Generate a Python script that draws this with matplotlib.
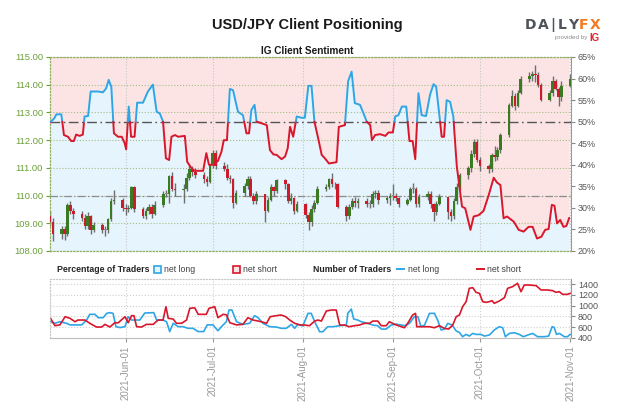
import matplotlib
matplotlib.use('Agg')
import matplotlib.pyplot as plt
import matplotlib.dates as mdates
from matplotlib import font_manager
from matplotlib.patches import Rectangle
from matplotlib.lines import Line2D
import numpy as np
import pandas as pd

names = {f.name for f in font_manager.fontManager.ttflist}
NARROW = 'Liberation Sans Narrow' if 'Liberation Sans Narrow' in names else 'Liberation Sans'
plt.rcParams['font.family'] = ['Liberation Sans', 'DejaVu Sans']

# ---- data ----
start = pd.Timestamp('2021-05-06')
end = pd.Timestamp('2021-11-01')
candle_dates = pd.bdate_range('2021-05-06', '2021-11-01')

first_open = 109.25
closes = [109.05, 108.60,
          108.80, 108.62, 109.65, 109.45, 109.35,
          109.20, 108.90, 109.25, 108.75, 108.95,
          108.75, 108.75, 109.15, 109.80, 109.85,
          109.55, 109.50, 109.55, 110.30, 109.50,
          109.25, 109.45, 109.60, 109.35, 109.65,
          110.05, 110.05, 110.70, 110.25, 110.20,
          110.25, 110.65, 110.95, 110.85, 110.75,
          110.60, 110.50, 111.10, 111.55, 111.05,
          110.95, 110.65, 110.60, 109.75, 110.10,
          110.35, 110.60, 110.00, 109.80, 110.05,
          109.45, 109.85, 110.30, 110.15, 110.55,
          110.40, 109.80, 109.90, 109.45, 109.70,
          109.30, 109.05, 109.50, 109.75, 110.25,
          110.30, 110.60, 110.40, 110.40, 109.60,
          109.25, 109.60, 109.80, 109.75, 109.80,
          109.70, 109.70, 110.05, 110.10, 109.85,
          109.90, 110.00, 110.00, 109.90, 109.70,
          109.85, 110.25, 110.25, 109.70, 109.95,
          110.05, 109.70, 109.40, 109.70, 109.95,
          109.40, 109.25, 109.80, 110.30, 110.75,
          111.00, 111.50, 111.95, 111.30, 111.05,
          110.95, 111.45, 111.40, 111.65, 112.20,
          113.25, 113.60, 113.25, 113.70, 114.20,
          114.30, 114.40, 114.35, 114.00, 113.45,
          113.70, 114.15, 113.85, 113.55, 113.95,
          114.20]
highs = [109.45, 109.20,
         108.90, 108.90, 109.75, 109.80, 109.55,
         109.45, 109.35, 109.40, 109.30, 109.05,
         109.00, 108.90, 109.20, 109.90, 110.20,
         109.90, 109.70, 109.65, 110.35, 110.35,
         109.60, 109.55, 109.70, 109.70, 109.80,
         110.15, 110.20, 110.75, 110.85, 110.45,
         110.40, 110.80, 111.10, 111.05, 111.00,
         110.85, 110.70, 111.15, 111.65, 111.65,
         111.20, 111.15, 110.75, 110.65, 110.20,
         110.45, 110.70, 110.70, 110.10, 110.15,
         110.05, 109.95, 110.40, 110.35, 110.60,
         110.60, 110.45, 110.10, 109.95, 109.80,
         109.75, 109.40, 109.65, 109.85, 110.35,
         110.40, 110.65, 110.80, 110.50, 110.45,
         109.65, 109.70, 109.90, 109.95, 109.90,
         109.90, 109.85, 110.15, 110.20, 110.20,
         110.00, 110.10, 110.40, 110.10, 109.95,
         109.90, 110.30, 110.45, 110.30, 110.05,
         110.15, 110.15, 109.75, 109.80, 110.05,
         109.95, 109.50, 109.90, 110.45, 110.80,
         111.05, 111.65, 112.05, 112.05, 111.40,
         111.15, 111.55, 111.80, 111.75, 112.25,
         113.35, 113.80, 113.70, 113.80, 114.30,
         114.45, 114.50, 114.70, 114.45, 114.05,
         113.80, 114.30, 114.20, 113.90, 114.15,
         114.40]
lows = [108.90, 108.35,
        108.45, 108.40, 108.55, 109.35, 109.15,
        109.10, 108.80, 108.80, 108.60, 108.70,
        108.65, 108.55, 108.65, 109.10, 109.70,
        109.45, 109.30, 109.40, 109.50, 109.40,
        109.20, 109.15, 109.35, 109.20, 109.30,
        109.60, 109.95, 109.75, 110.15, 110.00,
        109.75, 110.15, 110.55, 110.70, 110.65,
        110.45, 110.35, 110.45, 111.00, 110.95,
        110.90, 110.55, 110.45, 109.55, 109.70,
        110.00, 110.25, 109.95, 109.70, 109.70,
        109.05, 109.40, 109.80, 110.00, 110.10,
        110.25, 109.75, 109.70, 109.35, 109.40,
        109.20, 108.75, 108.90, 109.40, 109.70,
        110.15, 110.25, 110.30, 110.25, 109.55,
        109.10, 109.15, 109.50, 109.60, 109.55,
        109.60, 109.55, 109.60, 109.90, 109.70,
        109.75, 109.65, 109.85, 109.80, 109.60,
        109.65, 109.80, 110.10, 109.60, 109.60,
        109.85, 109.55, 109.10, 109.30, 109.65,
        109.15, 109.10, 109.15, 109.70, 110.20,
        110.60, 110.85, 111.40, 111.20, 110.90,
        110.80, 110.85, 111.25, 111.30, 111.55,
        112.10, 113.20, 113.10, 113.20, 113.65,
        114.10, 114.15, 114.10, 113.90, 113.40,
        113.40, 113.60, 113.80, 113.25, 113.40,
        113.90]

# net-long share of IG clients (%), day offsets from start
sent_days = [0, 1.5, 2.2, 3.9, 4.8, 6.2, 7.3, 8.2, 9.0, 10.2,
             11.3, 11.9, 13.1, 14.0, 16.5, 18.2, 19.3, 20.2, 21.1, 22.0,
             23.4, 24.7, 25.7, 26.2, 27.1, 27.9, 29.1, 30.0, 32.0, 33.7,
             35.4, 36.7, 37.8, 38.9, 39.9, 41.0, 41.8, 43.0, 44.1, 46.4,
             47.2, 48.7, 49.8, 52.7, 53.8, 54.7, 56.1, 57.8, 59.0, 59.8,
             60.9, 61.9, 63.0, 63.9, 64.7, 66.4, 67.6, 68.5, 69.3, 70.4,
             71.1, 72.9, 74.6, 75.7, 76.9, 78.0, 79.7, 80.9, 81.8, 82.6,
             83.7, 84.9, 86.6, 87.7, 88.9, 90.0, 91.0, 92.3, 93.5, 94.6,
             96.0, 98.6, 99.4, 101.5, 102.6, 103.8, 104.9, 106.7, 107.9, 109.0,
             110.2, 110.8, 111.9, 113.6, 115.4, 116.5, 118.0, 118.8, 119.9, 121.1,
             122.6, 123.7, 124.8, 125.7, 126.8, 127.9, 129.4, 130.8, 132.0, 132.9,
             134.0, 134.8, 135.6, 136.5, 137.7, 138.8, 140.0, 141.8, 142.9, 144.7,
             145.8, 147.5, 149.2, 151.0, 152.7, 153.8, 155.0, 156.1, 157.3, 159.6,
             161.3, 163.0, 164.7, 166.1, 167.6, 169.1, 170.4, 171.6, 172.7, 173.6,
             174.5, 175.6, 176.7, 177.7, 178.7]
sent_pct = [49.8, 50.8, 51.7, 51.7, 46.9, 46.5, 45.5, 45.5, 47.0, 46.7,
            47.0, 51.2, 51.3, 57.0, 57.0, 56.8, 57.7, 59.7, 58.1, 47.3,
            46.5, 46.5, 45.0, 43.6, 53.5, 46.5, 46.5, 54.4, 54.4, 57.0,
            58.6, 52.3, 51.9, 50.0, 41.5, 41.1, 46.5, 46.9, 46.5, 46.7,
            40.7, 39.2, 38.6, 38.6, 42.7, 40.0, 40.0, 40.9, 43.0, 45.7,
            45.7, 57.6, 57.3, 54.6, 52.3, 51.5, 47.3, 47.3, 52.7, 53.9,
            50.0, 49.6, 49.2, 43.4, 42.4, 42.3, 41.3, 41.9, 43.8, 48.8,
            46.5, 51.2, 50.9, 50.9, 58.3, 58.3, 50.0, 46.1, 42.3, 41.5,
            40.3, 40.6, 48.8, 49.2, 59.4, 61.6, 54.3, 53.9, 51.9, 50.0,
            49.2, 45.7, 46.9, 47.1, 46.7, 47.5, 47.5, 51.2, 51.5, 53.5,
            53.5, 45.5, 45.5, 41.3, 56.6, 51.5, 51.3, 56.3, 58.7, 58.1,
            51.5, 46.5, 46.5, 55.0, 54.6, 51.2, 39.6, 30.3, 29.9, 24.9,
            28.0, 28.3, 29.3, 33.0, 37.0, 35.9, 35.3, 27.6, 28.0, 26.8,
            24.9, 24.5, 25.6, 25.6, 22.9, 23.3, 24.9, 25.1, 30.7, 30.5,
            26.4, 27.2, 25.6, 25.8, 27.7]

# number of traders
short_days = [0, 1.7, 3.4, 5.2, 6.9, 8.6, 9.6, 12.0, 13.7, 16.0,
              17.8, 18.9, 20.6, 22.3, 23.5, 25.8, 26.9, 28.1, 28.9, 29.8,
              31.5, 33.2, 35.5, 37.2, 38.9, 39.9, 40.7, 42.4, 43.5, 45.3,
              47.0, 48.1, 49.8, 51.0, 53.8, 54.7, 56.7, 57.8, 59.6, 60.7,
              61.9, 64.2, 66.4, 68.1, 69.9, 72.7, 74.5, 75.8, 77.9, 79.6,
              81.1, 82.5, 84.2, 85.9, 87.6, 89.3, 91.1, 92.2, 93.4, 95.1,
              96.8, 98.5, 99.7, 101.4, 102.9, 104.8, 106.5, 108.2, 110.0, 111.1,
              112.8, 114.0, 115.7, 116.8, 118.6, 120.9, 122.0, 123.1, 124.8, 125.8,
              126.2, 128.3, 130.6, 132.3, 134.0, 135.7, 137.2, 138.6, 139.8, 140.9,
              142.0, 143.2, 144.3, 145.5, 146.6, 147.8, 148.9, 150.1, 151.2, 152.1,
              152.9, 154.6, 156.4, 157.5, 159.2, 160.9, 162.1, 163.2, 164.9, 167.3,
              169.0, 171.2, 173.0, 174.1, 175.3, 176.4, 178.1, 179.0]
short_count = [780, 625, 640, 794, 763, 700, 731, 731, 670, 600,
               600, 650, 600, 680, 680, 794, 680, 813, 813, 607,
               600, 650, 650, 731, 731, 981, 763, 750, 670, 670,
               731, 950, 960, 838, 838, 950, 981, 775, 838, 830,
               680, 640, 650, 775, 731, 700, 670, 794, 813, 825,
               794, 731, 670, 640, 637, 625, 712, 731, 712, 900,
               919, 919, 637, 637, 606, 625, 637, 669, 669, 712,
               712, 625, 625, 700, 650, 606, 587, 669, 825, 856,
               606, 606, 606, 587, 625, 575, 562, 637, 794, 825,
               981, 1075, 1325, 1337, 1250, 1231, 1075, 1062, 1075, 1094,
               1044, 1087, 1150, 1325, 1356, 1419, 1262, 1387, 1387, 1375,
               1294, 1294, 1281, 1250, 1262, 1212, 1212, 1231]
long_days = [0, 1.7, 3.4, 5.7, 6.9, 10.9, 12.6, 13.7, 15.5, 16.6,
             18.3, 19.5, 20.6, 21.7, 22.7, 24.1, 25.8, 26.9, 28.1, 30.9,
             32.6, 35.7, 36.7, 38.9, 40.1, 41.2, 42.4, 44.1, 45.8, 47.5,
             49.2, 51.0, 52.9, 54.1, 56.1, 57.8, 59.0, 60.7, 61.6, 62.6,
             64.2, 66.4, 68.7, 70.4, 71.6, 73.3, 75.6, 77.9, 79.6, 81.3,
             83.1, 84.2, 85.3, 87.0, 88.8, 89.9, 91.1, 92.8, 93.9, 95.6,
             97.4, 99.7, 102.0, 102.5, 103.7, 104.5, 105.9, 107.1, 109.4, 111.1,
             112.8, 114.0, 115.7, 117.4, 119.1, 120.9, 122.0, 123.7, 125.4, 126.6,
             127.7, 128.9, 130.6, 132.3, 133.4, 134.6, 135.7, 136.9, 138.4, 139.8,
             140.9, 142.0, 143.2, 144.3, 145.5, 146.6, 148.3, 149.5, 151.2, 152.9,
             154.6, 155.8, 156.7, 158.1, 159.8, 161.5, 162.9, 164.4, 166.1, 167.8,
             170.1, 171.6, 172.8, 173.5, 174.3, 175.3, 177.0, 178.1, 179.0]
long_count = [700, 670, 700, 670, 640, 640, 731, 838, 838, 775,
              775, 856, 870, 856, 607, 590, 607, 794, 731, 731,
              862, 870, 731, 731, 700, 515, 670, 607, 607, 576,
              576, 515, 515, 640, 640, 530, 607, 700, 919, 919,
              700, 650, 670, 813, 775, 670, 607, 600, 576, 576,
              650, 576, 650, 620, 856, 856, 700, 512, 512, 606,
              606, 625, 637, 856, 937, 750, 731, 700, 669, 637,
              625, 562, 562, 637, 656, 637, 625, 669, 794, 794,
              606, 637, 856, 856, 731, 544, 562, 669, 637, 525,
              500, 419, 462, 431, 481, 462, 462, 431, 450, 544,
              606, 587, 419, 481, 494, 462, 419, 450, 481, 419,
              419, 431, 606, 594, 462, 481, 419, 419, 462]

price_ticks = [108, 109, 110, 111, 112, 113, 114, 115]
pct_ticks = [20, 25, 30, 35, 40, 45, 50, 55, 60, 65]
count_ticks = [400, 600, 800, 1000, 1200, 1400]
month_ticks = pd.date_range('2021-06-01', '2021-11-01', freq='MS')

# ---- colours ----
BLUE = '#2ea6e6'
RED = '#d8172c'
PINK_BG = '#fce4e5'
BLUE_BG = '#e6f4fd'
GREEN_TXT = '#6a9f38'
GREY_TXT = '#555555'
C_UP = '#3a7a22'
C_DN = '#cc1b2b'

t0 = mdates.date2num(start)
x_end = mdates.date2num(end) + 0.3

fig = plt.figure(figsize=(6.24, 4.16), dpi=100)

# ---- top panel: three stacked axes (fills / candles / line) ----
ax_pct = fig.add_axes([50 / 624, 1 - 251 / 416, 521 / 624, 194 / 416])
ax_px = ax_pct.twinx()
ax_line = ax_pct.twinx()

sx = t0 + np.array(sent_days)
sy = np.array(sent_pct)
ax_pct.fill_between(sx, sy, 65, color=PINK_BG, lw=0)
ax_pct.fill_between(sx, 20, sy, color=BLUE_BG, lw=0)
ax_pct.set_ylim(20, 65)
ax_pct.set_xlim(t0, x_end)
ax_pct.set_yticks(pct_ticks)
ax_pct.set_yticklabels([f'{p}%' for p in pct_ticks])
ax_pct.yaxis.tick_right()
ax_pct.tick_params(axis='y', colors='#888888', labelcolor=GREY_TXT,
                   labelsize=6.5, length=3, width=0.8, pad=2)
ax_pct.tick_params(axis='x', length=0, labelbottom=False)
for s in ax_pct.spines.values():
    s.set_visible(False)

# candles
cx = mdates.date2num(candle_dates)
o = np.array([first_open] + closes[:-1])
c = np.array(closes)
h = np.array(highs)
l = np.array(lows)
cols = np.where(c > o, C_UP, np.where(c < o, C_DN, '#8a8a8a'))
ax_px.vlines(cx, l, h, color='#6e6e6e', lw=1.0, zorder=2)
ax_px.bar(cx, np.maximum(np.abs(c - o), 0.035), bottom=np.minimum(o, c),
          width=0.9, color=cols, lw=0, zorder=3)
ax_px.set_ylim(108, 115)
ax_px.set_xlim(t0, x_end)
ax_px.set_yticks(price_ticks)
ax_px.set_yticklabels([f'{p:.2f}' for p in price_ticks])
ax_px.yaxis.tick_left()
ax_px.yaxis.set_label_position('left')
ax_px.tick_params(axis='y', colors=GREEN_TXT, labelcolor=GREEN_TXT,
                  labelsize=6.8, length=3, width=0.8, pad=2)
ax_px.set_axisbelow(True)
ax_px.grid(axis='y', color='#a7bd86', ls=':', lw=0.8)
for m in mdates.date2num(month_ticks):
    ax_px.axvline(m, color='#c4c4c4', ls=':', lw=0.8, zorder=1)
ax_px.axhline(110, color='#8c8c8c', lw=0.9, dashes=(6, 2, 1, 2), zorder=1.5)
for side in ['left', 'top', 'bottom']:
    ax_px.spines[side].set_color('#8fae62')
    ax_px.spines[side].set_linestyle(':')
    ax_px.spines[side].set_linewidth(0.9)
ax_px.spines['right'].set_color('#9a9a9a')
ax_px.spines['right'].set_linewidth(0.8)

# sentiment line, blue above 50 %, red below
ax_line.set_ylim(20, 65)
ax_line.set_xlim(t0, x_end)
ax_line.axhline(50, color='#555555', lw=1.0, dashes=(7, 2.5, 1.2, 2.5), zorder=1)
seg_x, seg_y = [sx[0]], [sy[0]]
above = sy[0] >= 50
for i in range(1, len(sx)):
    now = sy[i] >= 50
    if now != above:
        t = (50 - sy[i - 1]) / (sy[i] - sy[i - 1])
        xc = sx[i - 1] + t * (sx[i] - sx[i - 1])
        seg_x.append(xc)
        seg_y.append(50)
        ax_line.plot(seg_x, seg_y, color=BLUE if above else RED, lw=1.4,
                     solid_capstyle='round', zorder=3)
        seg_x, seg_y = [xc], [50]
        above = now
    seg_x.append(sx[i])
    seg_y.append(sy[i])
ax_line.plot(seg_x, seg_y, color=BLUE if above else RED, lw=1.4,
             solid_capstyle='round', zorder=3)
ax_line.yaxis.set_visible(False)
for s in ax_line.spines.values():
    s.set_visible(False)

# ---- bottom panel ----
axb = fig.add_axes([50 / 624, 1 - 338.3 / 416, 521 / 624, 59 / 416])
axb.plot(t0 + np.array(long_days), long_count, color=BLUE, lw=1.2)
axb.plot(t0 + np.array(short_days), short_count, color=RED, lw=1.2)
axb.set_xlim(t0, x_end)
axb.set_ylim(389, 1494)
axb.yaxis.tick_right()
axb.set_yticks(count_ticks)
axb.tick_params(axis='y', colors='#888888', labelcolor=GREY_TXT,
                labelsize=6.5, length=3, width=0.8, pad=2)
axb.set_xticks(mdates.date2num(month_ticks))
axb.set_xticklabels([d.strftime('%Y-%b-%d') for d in month_ticks],
                    rotation=90, fontsize=7, color=GREY_TXT, family=NARROW)
axb.tick_params(axis='x', colors='#999999', length=3, width=0.8, pad=2)
axb.grid(color='#cfcfcf', ls=':', lw=0.8)
for side in ['left', 'top']:
    axb.spines[side].set_color('#c8c8c8')
    axb.spines[side].set_linestyle(':')
axb.spines['bottom'].set_color('#bdbdbd')
axb.spines['right'].set_color('#9a9a9a')
axb.spines['right'].set_linewidth(0.8)

# ---- titles & logo ----
fig.text(307 / 624, 1 - 25 / 416, 'USD/JPY Client Positioning', ha='center',
         va='center', fontsize=10.5, fontweight='bold', color='#1a1a1a')
fig.text(307 / 624, 1 - 50.5 / 416, 'IG Client Sentiment', ha='center',
         va='center', fontsize=7.2, fontweight='bold', color='#1a1a1a')
logo = [('D', 531, '#50555c'), ('A', 543, '#50555c'), ('|', 553, '#50555c'),
        ('L', 562, '#50555c'), ('Y', 573, '#50555c'), ('F', 584, '#f47b20'),
        ('X', 595, '#f47b20')]
for ch, px, col in logo:
    fig.text(px / 624, 1 - 25 / 416, ch, ha='center', va='center',
             fontsize=10, fontweight='bold', color=col, family='DejaVu Sans')
fig.text(587 / 624, 1 - 38 / 416, 'provided by', ha='right', va='center',
         fontsize=4.5, color='#8a8a8a')
fig.text(589 / 624, 1 - 38 / 416, 'IG', ha='left', va='center',
         fontsize=7, fontweight='bold', color='#e2262b')

# ---- legend row ----
ly = 1 - 269 / 416
fig.text(57 / 624, ly, 'Percentage of Traders', ha='left', va='center',
         fontsize=6.3, fontweight='bold', family=NARROW, color='#222222')
fig.add_artist(Rectangle((154 / 624, ly - 3.5 / 416), 7 / 624, 7 / 416,
                         transform=fig.transFigure, facecolor=BLUE_BG,
                         edgecolor=BLUE, lw=1.2))
fig.text(164 / 624, ly, 'net long', ha='left', va='center', fontsize=6.3,
         family=NARROW, color='#444444')
fig.add_artist(Rectangle((233 / 624, ly - 3.5 / 416), 7 / 624, 7 / 416,
                         transform=fig.transFigure, facecolor=PINK_BG,
                         edgecolor=RED, lw=1.2))
fig.text(243 / 624, ly, 'net short', ha='left', va='center', fontsize=6.3,
         family=NARROW, color='#444444')
fig.text(313 / 624, ly, 'Number of Traders', ha='left', va='center',
         fontsize=6.3, fontweight='bold', family=NARROW, color='#222222')
fig.add_artist(Line2D([397 / 624, 404 / 624], [ly, ly], color=BLUE, lw=1.4,
                      transform=fig.transFigure))
fig.text(408 / 624, ly, 'net long', ha='left', va='center', fontsize=6.3,
         family=NARROW, color='#444444')
fig.add_artist(Line2D([477 / 624, 484 / 624], [ly, ly], color=RED, lw=1.4,
                      transform=fig.transFigure))
fig.text(487 / 624, ly, 'net short', ha='left', va='center', fontsize=6.3,
         family=NARROW, color='#444444')

fig.savefig('out.png', dpi=100)
